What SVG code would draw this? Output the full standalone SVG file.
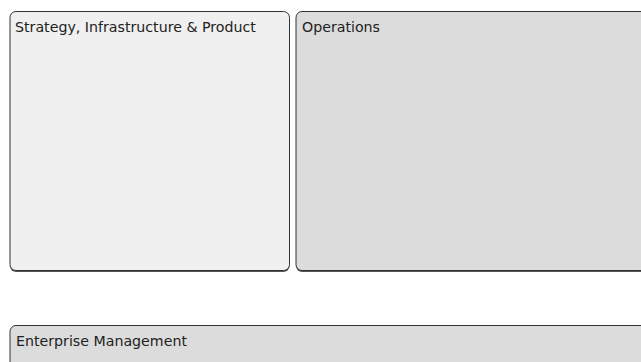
<svg xmlns="http://www.w3.org/2000/svg" width="641" height="362" viewBox="0 0 641 362">
<style>
.box{stroke:#333;stroke-width:1}
.shadow{fill:#555}
.lbl{font-family:"DejaVu Sans",Verdana,sans-serif;font-size:14.2px;fill:#222}
</style>
<rect width="641" height="362" fill="#fff"/>
<g id="strategy">
<rect class="shadow" x="10" y="13" width="279.5" height="259" rx="6"/>
<rect class="box" x="10" y="11.5" width="279.5" height="259" rx="6" fill="#f0f0f0"/>
<text class="lbl" x="15" y="32.3">Strategy, Infrastructure &amp; Product</text>
</g>
<g id="operations">
<rect class="shadow" x="296" y="13" width="360" height="259" rx="6"/>
<rect class="box" x="296" y="11.5" width="360" height="259" rx="6" fill="#dcdcdc"/>
<text class="lbl" x="302" y="32.3">Operations</text>
</g>
<g id="enterprise">
<rect class="box" x="10" y="325.5" width="660" height="60" rx="6" fill="#dcdcdc"/>
<text class="lbl" x="16" y="346.3">Enterprise Management</text>
</g>
<g id="connectors"></g>
</svg>
